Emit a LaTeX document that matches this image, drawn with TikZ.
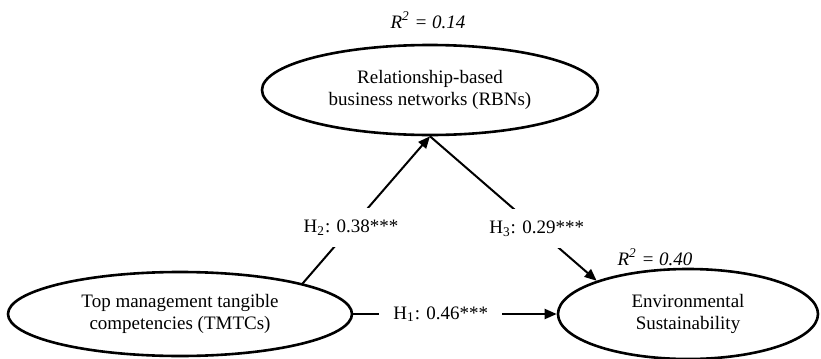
\documentclass[tikz,border=0pt]{standalone}
\usepackage{fontspec}
\setmainfont{Liberation Serif}
\usetikzlibrary{arrows.meta,shapes.geometric}
\begin{document}
\begin{tikzpicture}[x=0.5pt,y=-0.5pt,
	construct/.style={draw,ellipse,line width=1.3pt,inner sep=0pt,align=center,font=\fontsize{9.5}{11}\selectfont},
	effect/.style={line width=1pt,-{Triangle[length=6pt,width=5pt]}},
	coef/.style={fill=white,inner xsep=7pt,inner ysep=6pt,font=\fontsize{9.5}{11}\selectfont},
	rsq/.style={font=\fontsize{9.5}{11}\selectfont\itshape}]

	\useasboundingbox (0,0) rectangle (821,359);

	% constructs
	\node[construct,minimum width=168pt,minimum height=45pt] (rbn) at (430,90) {Relationship-based\\business networks (RBNs)};
	\node[construct,minimum width=172pt,minimum height=42pt] (tmtc) at (180,314) {Top management tangible\\competencies (TMTCs)};
	\node[construct,minimum width=130pt,minimum height=45pt] (es) at (688,314) {Environmental\\Sustainability};

	% explained variance
	\node[rsq] (r2rbn) at (428,20) {R\textsuperscript{2} = 0.14};
	\node[rsq] (r2es) at (655,257) {R\textsuperscript{2} = 0.40};

	% paths
	\draw[effect] (tmtc.east) -- node[coef,pos=0.43] (h1) {H\textsubscript{1}: 0.46***} (es.west);
	\draw[effect] (tmtc.14) -- node[coef,pos=0.38] (h2) {H\textsubscript{2}: 0.38***} (rbn.south);
	\draw[effect] (rbn.south) -- node[coef,pos=0.64] (h3) {H\textsubscript{3}: 0.29***} (es.160);

\end{tikzpicture}
\end{document}
